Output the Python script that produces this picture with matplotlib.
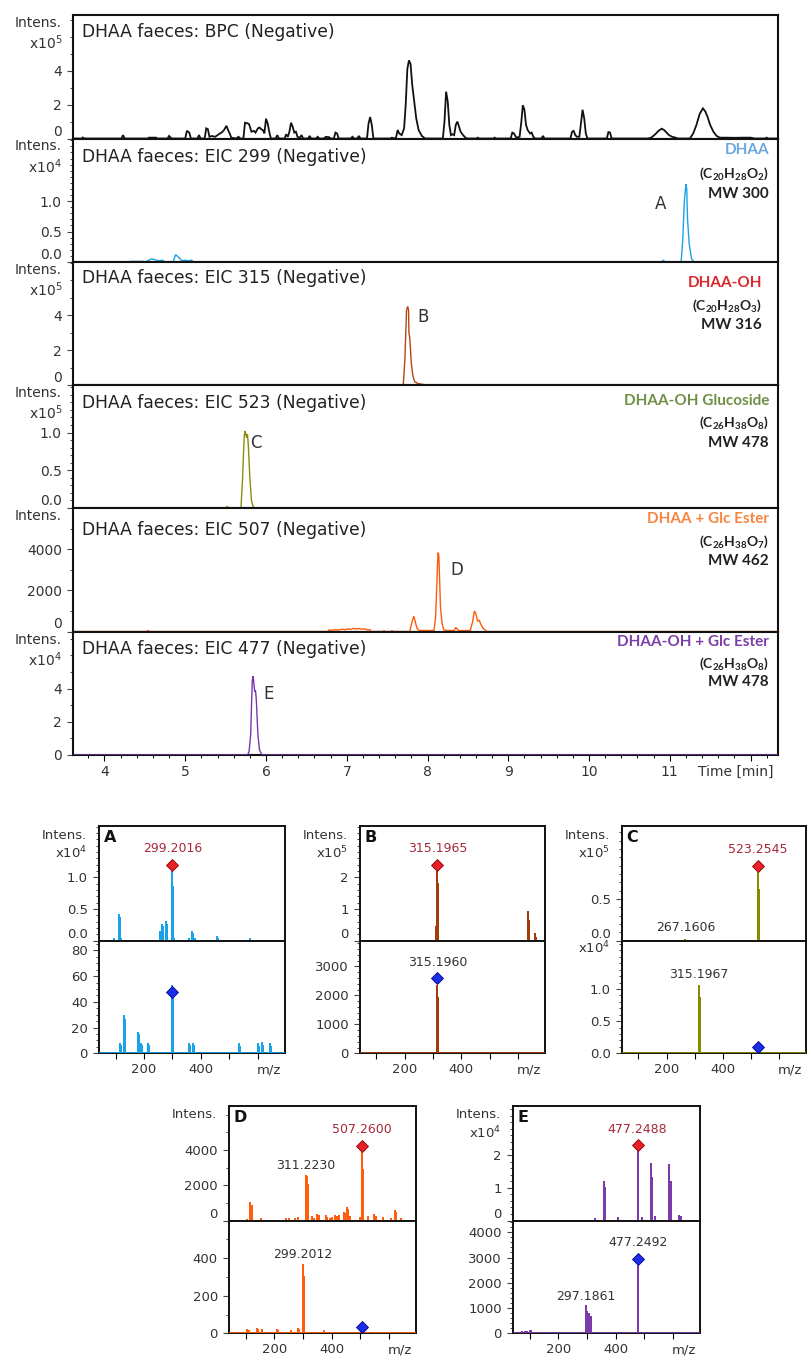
import matplotlib
matplotlib.use("Agg")
import matplotlib.pyplot as plt
from matplotlib.ticker import MultipleLocator, FixedLocator, FuncFormatter

plt.rcParams['font.family'] = ['DejaVu Sans']
plt.rcParams['mathtext.fontset'] = 'custom'
plt.rcParams['mathtext.rm'] = 'DejaVu Sans'
plt.rcParams['mathtext.bf'] = 'Lato:bold'

# ---------------------------------------------------------------------------
# Chromatogram traces: (retention time [min], intensity in the panel's unit)
# ---------------------------------------------------------------------------
bpc_trace = [  # x10^5
    (3.61, 0), (3.72, 0), (3.73, 0.06), (3.75, 0), (4.21, 0), (4.23, 0.2), (4.25, 0),
    (4.54, 0), (4.55, 0.05), (4.64, 0.05), (4.65, 0), (4.78, 0), (4.80, 0.15), (4.83, 0),
    (5.00, 0), (5.02, 0.45), (5.05, 0.35), (5.07, 0), (5.15, 0), (5.17, 0.2), (5.19, 0),
    (5.24, 0), (5.26, 0.6), (5.28, 0.55), (5.30, 0.1), (5.33, 0.15), (5.37, 0.1), (5.40, 0.2),
    (5.43, 0.3), (5.45, 0.35), (5.48, 0.5), (5.51, 0.75), (5.53, 0.5), (5.55, 0.3), (5.57, 0.05),
    (5.63, 0), (5.66, 0.1), (5.68, 0), (5.72, 0), (5.74, 0.93), (5.77, 0.9), (5.79, 0.85),
    (5.82, 0.4), (5.85, 0.45), (5.87, 0.35), (5.90, 0.6), (5.92, 0.65), (5.94, 0.55), (5.96, 0.5),
    (5.98, 0.3), (6.00, 1.17), (6.02, 0.9), (6.04, 0.4), (6.06, 0), (6.12, 0), (6.14, 0.2),
    (6.16, 0), (6.23, 0), (6.25, 0.25), (6.27, 0.1), (6.29, 0.4), (6.31, 0.93), (6.33, 0.7),
    (6.35, 0.35), (6.37, 0.4), (6.39, 0.1), (6.42, 0.05), (6.44, 0.2), (6.46, 0), (6.52, 0),
    (6.54, 0.15), (6.56, 0), (6.62, 0), (6.64, 0.1), (6.66, 0), (6.72, 0), (6.74, 0.1),
    (6.78, 0.08), (6.80, 0), (6.84, 0), (6.86, 0.35), (6.88, 0.3), (6.90, 0), (7.05, 0),
    (7.07, 0.1), (7.09, 0), (7.13, 0), (7.15, 0.15), (7.17, 0), (7.25, 0), (7.27, 0.9),
    (7.29, 1.27), (7.31, 0.8), (7.33, 0), (7.54, 0), (7.56, 0.05), (7.58, 0), (7.61, 0.05),
    (7.63, 0.5), (7.65, 0.3), (7.68, 0.2), (7.71, 0.6), (7.73, 2.0), (7.75, 4.1), (7.77, 4.62),
    (7.79, 4.4), (7.81, 3.2), (7.83, 2.4), (7.86, 1.2), (7.89, 0.5), (7.93, 0.15), (7.97, 0),
    (8.19, 0), (8.21, 1.0), (8.23, 2.77), (8.25, 2.2), (8.27, 0.8), (8.29, 0.2), (8.31, 0.25),
    (8.33, 0.2), (8.35, 0.8), (8.37, 1.0), (8.39, 0.7), (8.41, 0.4), (8.44, 0.2), (8.47, 0.05),
    (8.49, 0), (8.61, 0), (8.62, 0.05), (8.64, 0), (8.82, 0), (8.83, 0.05), (8.85, 0),
    (9.03, 0), (9.05, 0.35), (9.07, 0.3), (9.10, 0.05), (9.14, 0.1), (9.16, 0.9), (9.18, 1.97),
    (9.20, 1.7), (9.22, 0.8), (9.24, 0.5), (9.27, 0.3), (9.29, 0.35), (9.31, 0.1), (9.33, 0),
    (9.41, 0), (9.43, 0.15), (9.45, 0), (9.77, 0), (9.79, 0.4), (9.81, 0.45), (9.83, 0.2),
    (9.85, 0.1), (9.88, 0.1), (9.90, 0.9), (9.92, 1.7), (9.94, 1.2), (9.96, 0.3), (9.98, 0),
    (10.22, 0), (10.24, 0.38), (10.26, 0.35), (10.28, 0), (10.73, 0), (10.77, 0.05),
    (10.82, 0.25), (10.86, 0.45), (10.90, 0.58), (10.93, 0.5), (10.96, 0.35), (10.99, 0.2),
    (11.03, 0.1), (11.07, 0.05), (11.10, 0), (11.25, 0), (11.29, 0.3), (11.33, 0.8),
    (11.37, 1.45), (11.41, 1.78), (11.44, 1.6), (11.47, 1.25), (11.50, 0.8), (11.54, 0.4),
    (11.58, 0.15), (11.62, 0.05), (11.70, 0.05), (11.80, 0.04), (11.90, 0.05), (12.00, 0.05),
    (12.05, 0), (12.18, 0), (12.20, 0.05), (12.22, 0), (12.34, 0),
]

eic299_trace = [  # x10^4
    (3.61, 0), (4.30, 0), (4.32, 0.01), (4.48, 0.01), (4.50, 0), (4.55, 0.03), (4.58, 0.05),
    (4.62, 0.04), (4.66, 0.02), (4.72, 0.03), (4.75, 0), (4.85, 0), (4.88, 0.12), (4.90, 0.1),
    (4.93, 0.06), (4.96, 0.02), (5.00, 0.03), (5.04, 0.02), (5.08, 0.03), (5.10, 0),
    (10.90, 0), (10.92, 0.03), (10.94, 0), (11.14, 0), (11.16, 0.35), (11.18, 1.0),
    (11.20, 1.28), (11.21, 1.2), (11.22, 0.7), (11.24, 0.3), (11.27, 0.05), (11.30, 0), (12.34, 0),
]

eic315_trace = [  # x10^5
    (3.61, 0), (7.70, 0), (7.72, 1.5), (7.74, 4.3), (7.755, 4.5), (7.765, 4.3), (7.77, 3.0),
    (7.78, 2.7), (7.80, 1.2), (7.82, 0.5), (7.84, 0.2), (7.88, 0.08), (7.95, 0.03), (7.97, 0),
    (12.34, 0),
]

eic523_trace = [  # x10^5
    (3.61, 0), (5.50, 0), (5.52, 0.02), (5.54, 0), (5.69, 0), (5.71, 0.4), (5.73, 0.95),
    (5.74, 1.02), (5.75, 0.98), (5.76, 0.93), (5.77, 0.98), (5.78, 0.85), (5.80, 0.4),
    (5.82, 0.1), (5.84, 0.02), (5.86, 0), (12.34, 0),
]

eic507_trace = [  # counts
    (3.61, 0), (4.53, 0), (4.54, 60), (4.55, 0), (6.77, 0), (6.78, 80), (6.82, 60), (6.86, 90),
    (6.90, 70), (6.94, 110), (6.98, 90), (7.02, 130), (7.05, 100), (7.08, 150), (7.12, 120),
    (7.15, 150), (7.18, 110), (7.21, 130), (7.25, 90), (7.29, 80), (7.30, 0), (7.45, 0),
    (7.46, 40), (7.47, 0), (7.55, 0), (7.56, 50), (7.57, 0), (7.78, 0), (7.80, 350),
    (7.83, 740), (7.85, 450), (7.87, 150), (7.90, 50), (8.08, 50), (8.10, 700), (8.12, 2800),
    (8.13, 3830), (8.14, 3700), (8.15, 2500), (8.16, 1200), (8.18, 400), (8.20, 100),
    (8.22, 50), (8.33, 50), (8.35, 200), (8.37, 100), (8.39, 40), (8.53, 50), (8.56, 500),
    (8.58, 1000), (8.60, 850), (8.62, 500), (8.64, 550), (8.66, 350), (8.69, 150), (8.72, 50),
    (8.74, 0), (12.34, 0),
]

eic477_trace = [  # x10^4
    (3.61, 0), (5.77, 0), (5.79, 0.2), (5.81, 1.2), (5.83, 4.5), (5.84, 4.76), (5.85, 4.3),
    (5.86, 3.8), (5.87, 3.9), (5.88, 3.3), (5.90, 1.2), (5.92, 0.3), (5.95, 0), (12.34, 0),
]

chrom_titles = ['DHAA faeces: BPC (Negative)', 'DHAA faeces: EIC 299 (Negative)',
                'DHAA faeces: EIC 315 (Negative)', 'DHAA faeces: EIC 523 (Negative)',
                'DHAA faeces: EIC 507 (Negative)', 'DHAA faeces: EIC 477 (Negative)']
compound_names = [None, 'DHAA', 'DHAA-OH', 'DHAA-OH Glucoside', 'DHAA + Glc Ester',
                  'DHAA-OH + Glc Ester']
compound_formulas = [None,
                     r'(C$_{\mathbf{20}}$H$_{\mathbf{28}}$O$_{\mathbf{2}}$)',
                     r'(C$_{\mathbf{20}}$H$_{\mathbf{28}}$O$_{\mathbf{3}}$)',
                     r'(C$_{\mathbf{26}}$H$_{\mathbf{38}}$O$_{\mathbf{8}}$)',
                     r'(C$_{\mathbf{26}}$H$_{\mathbf{38}}$O$_{\mathbf{7}}$)',
                     r'(C$_{\mathbf{26}}$H$_{\mathbf{38}}$O$_{\mathbf{8}}$)']
compound_mw = [None, 'MW 300', 'MW 316', 'MW 478', 'MW 462', 'MW 478']
peak_letters = [None, 'A', 'B', 'C', 'D', 'E']

# ---------------------------------------------------------------------------
# MS spectra: full scan (top) and MS/MS (bottom) for peaks A-E
# ---------------------------------------------------------------------------
A_ms_mz = [94, 112, 116, 120, 255, 259, 263, 267, 278, 282, 299.2016, 303, 307, 357, 368, 372,
           380, 456, 460, 571]
A_ms_int = [0.02, 0.40, 0.36, 0.02, 0.14, 0.10, 0.25, 0.22, 0.29, 0.25, 1.09, 0.85, 0.02, 0.02,
            0.13, 0.10, 0.02, 0.06, 0.03, 0.03]                       # x10^4
A_msms_mz = [116, 120, 131, 135, 180, 184, 188, 192, 215, 219, 299.2016, 303, 358, 362, 371, 375,
             533, 537, 599, 603, 615, 619, 642, 646]
A_msms_int = [7, 6, 29, 26, 16, 14, 7, 6, 7, 6, 52, 48, 7, 6, 7, 6, 7, 5, 7, 5, 8, 6, 7, 5]

B_ms_mz = [311, 315.1965, 319, 635, 639, 660, 664]
B_ms_int = [0.42, 2.18, 1.78, 0.9, 0.63, 0.2, 0.1]                      # x10^5
B_msms_mz = [315.1960, 319]
B_msms_int = [2320, 1917]

C_ms_mz = [267.1606, 523.2545, 527]
C_ms_int = [0.004, 0.81, 0.61]                                          # x10^5
C_msms_mz = [315.1967, 319]
C_msms_int = [1.05, 0.86]                                               # x10^4

D_ms_mz = [105, 117, 122, 154, 240, 251, 271, 282, 311.2230, 315, 319, 331, 339, 350, 356, 379,
           385, 396, 402, 411, 419, 425, 442, 447, 455, 459, 465, 499, 507.2600, 511, 527, 550,
           556, 579, 607, 622, 626, 641]
D_ms_int = [50, 1000, 850, 100, 80, 80, 100, 150, 2550, 2480, 2000, 200, 100, 300, 250, 250,
            150, 100, 150, 250, 200, 250, 450, 350, 700, 600, 200, 150, 3850, 2850, 200, 300,
            200, 150, 100, 550, 400, 80]
D_msms_mz = [105, 111, 140, 145, 157, 208, 214, 259, 282, 288, 299.2012, 303, 373]
D_msms_int = [15, 12, 25, 20, 15, 20, 12, 10, 25, 15, 365, 300, 10]

E_ms_mz = [327, 360, 365, 407, 477.2488, 480, 492, 523.5, 529, 539, 588, 593, 621, 627]
E_ms_int = [0.05, 1.18, 0.98, 0.08, 2.1, 1.57, 0.08, 1.74, 1.31, 0.1, 1.69, 1.18, 0.15, 0.1]  # x10^4
E_msms_mz = [74, 83, 91, 100, 105, 297.1861, 301, 309, 313, 477.2492, 480]
E_msms_int = [60, 50, 40, 90, 100, 1080, 850, 750, 650, 2660, 2040]

# precursor (diamond) marks: m/z and height in the panel's unit
precursor_mz = {'A': 299.2016, 'B': 315.1965, 'C': 523.2545, 'D': 507.2600, 'E': 477.2488}
precursor_ms_y = {'A': 1.2, 'B': 2.4, 'C': 0.9, 'D': 4230, 'E': 2.3}
precursor_msms_mz = {'A': 299.2016, 'B': 315.1960, 'C': 523.2545, 'D': 507.2600, 'E': 477.2492}
precursor_msms_y = {'A': 48, 'B': 2586, 'C': 0.1, 'D': 35, 'E': 2960}

# ---------------------------------------------------------------------------
W, H = 807, 1360
fig = plt.figure(figsize=(W / 100, H / 100), dpi=100)
fig.patch.set_facecolor('white')


def rect(l, t, r, b):
    return [l / W, 1 - b / H, (r - l) / W, (b - t) / H]


TXT = '#333333'
RED_LBL = '#A8283A'


def style_y(ax, majors, minor, fmt, fontsize=10, lift_zero=False):
    ax.yaxis.set_major_locator(FixedLocator(majors))
    ax.yaxis.set_minor_locator(MultipleLocator(minor))
    ax.yaxis.set_major_formatter(FuncFormatter(lambda v, p: fmt.format(v)))
    ax.tick_params(axis='y', which='major', direction='out', length=4.5, width=0.8,
                   labelsize=fontsize, labelcolor=TXT, color='#444444', pad=3.5)
    ax.tick_params(axis='y', which='minor', direction='out', length=2.5, width=0.7,
                   color='#444444')
    ax.tick_params(axis='y', right=False, which='both')
    if lift_zero:
        ax.yaxis.get_major_ticks()[0].label1.set_verticalalignment('bottom')


def side_label(ax, text, dy, dx=-11, fontsize=10):
    ax.annotate(text, xy=(0, 1), xycoords='axes fraction', xytext=(dx, dy),
                textcoords='offset pixels', ha='right', va='center',
                fontsize=fontsize, color=TXT)


# ---------------- chromatogram stack ----------------
chrom_traces = [bpc_trace, eic299_trace, eic315_trace, eic523_trace, eic507_trace, eic477_trace]
chrom_colors = ['#111111', '#1AA3E8', '#B4460F', '#8C8C0A', '#FF5A0A', '#7B35B0']
name_colors = [None, '#6AA6DC', '#D8262C', '#6F8F45', '#F5853F', '#7A3EA8']
chrom_ymax = [7.3, 2.03, 7.05, 1.63, 6000, 7.44]
chrom_majors = [[0, 2, 4], [0, 0.5, 1.0], [0, 2, 4], [0, 0.5, 1.0], [0, 2000, 4000], [0, 2, 4]]
chrom_minor = [1, 0.1, 1, 0.1, 1000, 1]
chrom_fmt = ['{:.0f}', '{:.1f}', '{:.0f}', '{:.1f}', '{:.0f}', '{:.0f}']
chrom_exp = [5, 4, 5, 5, None, 4]
chrom_lw = [1.3, 1.0, 1.0, 1.0, 1.0, 1.0]
chrom_title_dy = [-17, -19, -16, -18, -22, -17]
note_dy = [None, (-12, -35, -55), (-21, -44, -63), (-16, -38, -58), (-11, -34, -53),
           (-10, -32, -51)]
note_dx = [None, -9, -16, -9, -9, -9]
letter_pos = [None, (10.89, 0.95), (7.95, 3.9), (5.88, 0.86), (8.36, 3000), (6.03, 3.7)]

panel_edges = [15, 138.5, 262, 385, 508, 631.5, 755]
for i in range(6):
    ax = fig.add_axes(rect(73, panel_edges[i], 778, panel_edges[i + 1]))
    t = [p[0] for p in chrom_traces[i]]
    v = [p[1] for p in chrom_traces[i]]
    ax.plot(t, v, color=chrom_colors[i], lw=chrom_lw[i], zorder=3 if i == 5 else 2,
            solid_joinstyle='miter')
    ax.set_xlim(3.61, 12.34)
    ax.set_ylim(0, chrom_ymax[i])
    for s in ax.spines.values():
        s.set_linewidth(1.5)
        s.set_color('#111111')
    style_y(ax, chrom_majors[i], chrom_minor[i], chrom_fmt[i], lift_zero=(i < 5))
    ax.xaxis.set_major_locator(FixedLocator(list(range(4, 13))))
    ax.xaxis.set_minor_locator(MultipleLocator(0.2))
    if i < 5:
        ax.tick_params(axis='x', which='both', bottom=False, labelbottom=False)
    else:
        ax.xaxis.set_major_formatter(FuncFormatter(lambda x, p: '' if x > 11.5 else f'{x:.0f}'))
        ax.tick_params(axis='x', which='major', direction='out', length=4.5, width=0.8,
                       labelsize=10, labelcolor=TXT, pad=3)
        ax.tick_params(axis='x', which='minor', direction='out', length=2.5, width=0.7)
        ax.annotate('Time [min]', xy=(1, 0), xycoords='axes fraction', xytext=(-5, -17),
                    textcoords='offset pixels', ha='right', va='center', fontsize=10, color=TXT)
    side_label(ax, 'Intens.', -8)
    if chrom_exp[i] is not None:
        side_label(ax, 'x10$^{%d}$' % chrom_exp[i], -28)
    ax.annotate(chrom_titles[i], xy=(0, 1), xycoords='axes fraction',
                xytext=(9, chrom_title_dy[i]), textcoords='offset pixels', ha='left',
                va='center', fontsize=12.3, color='#222222')
    if compound_names[i]:
        dys = note_dy[i]
        dx = note_dx[i]
        ax.annotate(compound_names[i], xy=(1, 1), xycoords='axes fraction', xytext=(dx, dys[0]),
                    textcoords='offset pixels', ha='right', va='center', fontsize=11,
                    family='Lato', weight='bold', color=name_colors[i])
        ax.annotate(compound_formulas[i], xy=(1, 1), xycoords='axes fraction',
                    xytext=(dx, dys[1]), textcoords='offset pixels', ha='right', va='center',
                    fontsize=10, family='Lato', weight='bold', color='#222222')
        ax.annotate(compound_mw[i], xy=(1, 1), xycoords='axes fraction', xytext=(dx, dys[2]),
                    textcoords='offset pixels', ha='right', va='center', fontsize=11,
                    family='Lato', weight='bold', color='#222222')
        lx, ly = letter_pos[i]
        ax.text(lx, ly, peak_letters[i], fontsize=12, color=TXT, ha='center', va='center')


# ---------------- mass spectra ----------------
MZ_LO, MZ_HI = 42, 695


def stick_line(mz, inten, baseline):
    xs, ys = [], []
    if baseline:
        xs.append(MZ_LO)
        ys.append(0)
    for m, val in sorted(zip(mz, inten)):
        xs += [m, m, m]
        ys += [0, val, 0]
    if baseline:
        xs.append(MZ_HI)
        ys.append(0)
    return xs, ys


ms_boxes = {'A': (99, 826, 285, 940.7, 1053.3), 'B': (360, 826, 545, 940.7, 1053.3),
            'C': (622, 826, 806, 940.7, 1053.3), 'D': (229, 1106, 416, 1220.5, 1333.3),
            'E': (513, 1106, 700, 1220.5, 1333.3)}
ms_colors = {'A': '#1AA3E8', 'B': '#A33B0B', 'C': '#8A8A00', 'D': '#FF5E0E', 'E': '#7C3BAA'}
ms_data = {'A': (A_ms_mz, A_ms_int, A_msms_mz, A_msms_int),
           'B': (B_ms_mz, B_ms_int, B_msms_mz, B_msms_int),
           'C': (C_ms_mz, C_ms_int, C_msms_mz, C_msms_int),
           'D': (D_ms_mz, D_ms_int, D_msms_mz, D_msms_int),
           'E': (E_ms_mz, E_ms_int, E_msms_mz, E_msms_int)}
ms_top_axis = {'A': (1.81, [0, 0.5, 1.0], 0.1, '{:.1f}', 4),
               'B': (3.62, [0, 1, 2], 0.2, '{:.0f}', 5),
               'C': (1.375, [0, 0.5], 0.1, '{:.1f}', 5),
               'D': (6500, [0, 2000, 4000], 1000, '{:.0f}', None),
               'E': (3.5, [0, 1, 2], 0.2, '{:.0f}', 4)}
ms_bot_axis = {'A': (87.6, [0, 20, 40, 60, 80], 5, '{:.0f}', None),
               'B': (3883, [0, 1000, 2000, 3000], 200, '{:.0f}', None),
               'C': (1.75, [0, 0.5, 1.0], 0.1, '{:.1f}', 4),
               'D': (600, [0, 200, 400], 100, '{:.0f}', None),
               'E': (4466, [0, 1000, 2000, 3000, 4000], 200, '{:.0f}', None)}
# peak labels: (m/z, label height, colour) for each sub-panel
ms_top_labels = {'A': [(299.2016, 1.45, RED_LBL)], 'B': [(315.1965, 2.9, RED_LBL)],
                 'C': [(523.2545, 1.09, RED_LBL), (267.1606, 0.16, TXT)],
                 'D': [(507.2600, 5143, RED_LBL), (311.2230, 3140, TXT)],
                 'E': [(477.2488, 2.79, RED_LBL)]}
ms_bot_labels = {'A': [], 'B': [(315.1960, 3138, TXT)], 'C': [(315.1967, 1.22, TXT)],
                 'D': [(299.2012, 421, TXT)],
                 'E': [(477.2492, 3597, TXT), (297.1861, 1474, TXT)]}

for key, (l, t, r, mid, b) in ms_boxes.items():
    col = ms_colors[key]
    mz1, in1, mz2, in2 = ms_data[key]
    for part in ('top', 'bot'):
        if part == 'top':
            ax = fig.add_axes(rect(l, t, r, mid))
            ymax, majors, minor, fmt, exp = ms_top_axis[key]
            xs, ys = stick_line(mz1, in1, baseline=False)
            labels = ms_top_labels[key]
            dmz, dy, face, edge = precursor_mz[key], precursor_ms_y[key], '#E8202A', '#8B0000'
        else:
            ax = fig.add_axes(rect(l, mid, r, b))
            ymax, majors, minor, fmt, exp = ms_bot_axis[key]
            xs, ys = stick_line(mz2, in2, baseline=True)
            labels = ms_bot_labels[key]
            dmz, dy, face, edge = precursor_msms_mz[key], precursor_msms_y[key], '#1A2EE8', '#00008B'
        ax.plot(xs, ys, color=col, lw=1.3, zorder=3, solid_capstyle='butt')
        ax.plot([dmz], [dy], marker='D', ms=6.5, mfc=face, mec=edge, mew=0.6, zorder=4)
        for lm, ly, lc in labels:
            ax.text(lm, ly, f'{lm:.4f}', ha='center', va='center', fontsize=9, color=lc)
        ax.set_xlim(MZ_LO, MZ_HI)
        ax.set_ylim(0, ymax)
        for s in ax.spines.values():
            s.set_linewidth(1.4)
            s.set_color('#111111')
        style_y(ax, majors, minor, fmt, fontsize=9.5, lift_zero=(part == 'top'))
        if part == 'top':
            ax.tick_params(axis='x', which='both', bottom=False, labelbottom=False)
            side_label(ax, 'Intens.', -9, dx=-12, fontsize=9.5)
            if exp is not None:
                side_label(ax, 'x10$^{%d}$' % exp, -27, dx=-12, fontsize=9.5)
            ax.text(0.025, 0.9, key, transform=ax.transAxes, fontsize=11.5, weight='bold',
                    color='#111111', ha='left', va='center')
        else:
            ax.xaxis.set_major_locator(MultipleLocator(100))
            ax.xaxis.set_major_formatter(FuncFormatter(
                lambda x, p: {200: '200', 400: '400'}.get(int(round(x)), '')))
            ax.tick_params(axis='x', which='major', direction='out', length=4, width=0.8,
                           labelsize=9.5, labelcolor=TXT, pad=3)
            ax.annotate('m/z', xy=(1, 0), xycoords='axes fraction', xytext=(-4, -17),
                        textcoords='offset pixels', ha='right', va='center', fontsize=9.5,
                        color=TXT)
            if exp is not None:
                side_label(ax, 'x10$^{%d}$' % exp, -7, dx=-12, fontsize=9.5)

fig.savefig('out.png', dpi=100, facecolor='white')
